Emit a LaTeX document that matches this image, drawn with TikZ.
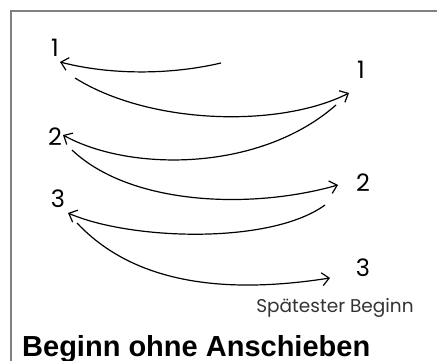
\documentclass[tikz,border=0pt]{standalone}
\usepackage{fontspec}
\setmainfont{Poppins}
\newfontfamily\titlefont{Liberation Sans}
\usepackage{tikz}
\usetikzlibrary{arrows.meta}
\definecolor{framegray}{HTML}{808080}
\definecolor{labelgray}{HTML}{333333}

\begin{document}
\begin{tikzpicture}[x=1pt,y=-1pt,>={Straight Barb[length=7pt,width=13pt]},
    jump/.style={->,line width=1.2pt},
    num/.style={font=\fontsize{24}{24}\selectfont}]
  \useasboundingbox (0,0) rectangle (437,361);
  \draw[framegray,line width=2pt] (437,11) -- (11,11) -- (11,361);

  \node[num] (l1) at (55,48) {1};
  \node[num] (r1) at (361,70) {1};
  \node[num] (l2) at (55,137) {2};
  \node[num] (r2) at (363,183) {2};
  \node[num] (l3) at (58,199) {3};
  \node[num] (r3) at (363,268) {3};

  \coordinate (s1) at (221,63);
  \coordinate (e1) at (60,62);
  \coordinate (s2) at (75,78);
  \coordinate (e2) at (349,93);
  \coordinate (s3) at (336,105);
  \coordinate (e3) at (63,135);
  \coordinate (s4) at (72,150);
  \coordinate (e4) at (338,185);
  \coordinate (s5) at (325,205);
  \coordinate (e5) at (68,213);
  \coordinate (s6) at (77,223);
  \coordinate (e6) at (330,278);

  \draw[jump] (s1) .. controls (170,75) and (110,75) .. (e1);
  \draw[jump] (s2) .. controls (150,125) and (280,128) .. (e2);
  \draw[jump] (s3) .. controls (260,172) and (130,172) .. (e3);
  \draw[jump] (s4) .. controls (130,205) and (250,210) .. (e4);
  \draw[jump] (s5) .. controls (270,245) and (130,240) .. (e5);
  \draw[jump] (s6) .. controls (140,290) and (240,292) .. (e6);

  \node[labelgray,font=\fontsize{18.5}{18.5}\selectfont] (late) at (335,308)
    {Spätester Beginn};
  \node[anchor=base west,inner sep=0pt,
    font=\titlefont\bfseries\fontsize{29}{29}\selectfont]
    (title) at (22,356) {Beginn ohne Anschieben};
\end{tikzpicture}
\end{document}
